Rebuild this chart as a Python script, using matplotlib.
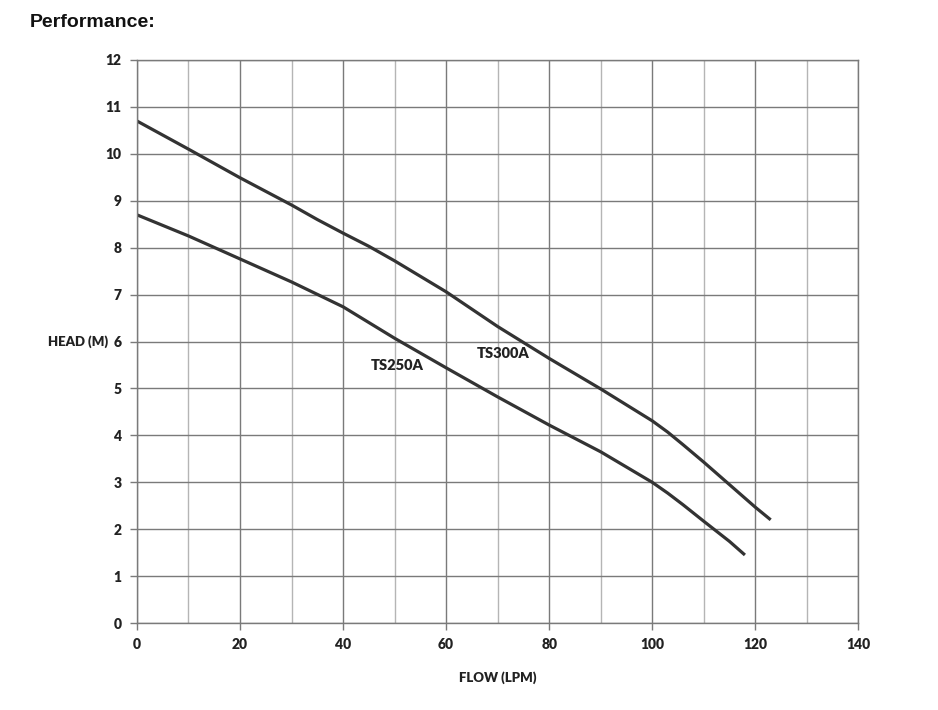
import matplotlib.pyplot as plt
from matplotlib.ticker import MultipleLocator

# pump curves
flow_300 = [0, 10, 20, 30, 35, 40, 45, 50, 60, 70, 80, 90, 100, 103, 106, 110, 115, 120, 123]
head_300 = [10.7, 10.1, 9.49, 8.91, 8.6, 8.31, 8.03, 7.72, 7.06, 6.32, 5.64, 4.99, 4.31, 4.07, 3.8, 3.43, 2.95, 2.47, 2.2]

flow_250 = [0, 10, 20, 30, 40, 50, 60, 70, 80, 90, 100, 103, 106, 110, 115, 118]
head_250 = [8.7, 8.25, 7.76, 7.27, 6.74, 6.07, 5.44, 4.82, 4.22, 3.65, 3.0, 2.77, 2.52, 2.17, 1.74, 1.45]

labels = ["TS300A", "TS250A"]

fnt = "Lato"
line_col = "#333333"
txt_col = "#222222"

fig = plt.figure(figsize=(9.38, 7.1), dpi=100)
ax = fig.add_axes([0.146, 0.1225, 0.769, 0.793])

ax.plot(flow_300, head_300, color=line_col, lw=2.3, solid_capstyle="butt")
ax.plot(flow_250, head_250, color=line_col, lw=2.3, solid_capstyle="butt")

ax.text(71, 5.74, labels[0], fontsize=10.5, fontweight="heavy", family=fnt,
        ha="center", va="center", color=txt_col)
ax.text(50.5, 5.48, labels[1], fontsize=10.5, fontweight="heavy", family=fnt,
        ha="center", va="center", color=txt_col)

ax.set_xlim(0, 140)
ax.set_ylim(0, 12)
ax.xaxis.set_major_locator(MultipleLocator(20))
ax.xaxis.set_minor_locator(MultipleLocator(10))
ax.yaxis.set_major_locator(MultipleLocator(1))

ax.grid(which="major", axis="both", color="#7a7a7a", lw=1.0)
ax.grid(which="minor", axis="x", color="#b5b5b5", lw=1.0)
ax.set_axisbelow(True)
for s in ax.spines.values():
    s.set_color("#7a7a7a")
    s.set_linewidth(1.0)

ax.tick_params(which="major", length=5, width=1, color="#7a7a7a", pad=6,
               labelsize=10)
ax.tick_params(which="minor", length=0)
for t in ax.get_xticklabels() + ax.get_yticklabels():
    t.set_fontweight("heavy")
    t.set_family(fnt)
    t.set_color(txt_col)

ax.set_xlabel("FLOW (LPM)", fontsize=9.5, fontweight="heavy", family=fnt,
              color=txt_col, labelpad=14)
ax.set_ylabel("HEAD (M)", fontsize=9.5, fontweight="heavy", family=fnt,
              color=txt_col, rotation=0, ha="right", va="center")
ax.yaxis.set_label_coords(-0.04, 0.5)

fig.text(0.032, 0.969, "Performance:", fontsize=14, fontweight="bold",
         family="Liberation Sans", va="center", color="#111111")

fig.savefig("out.png", dpi=100)
